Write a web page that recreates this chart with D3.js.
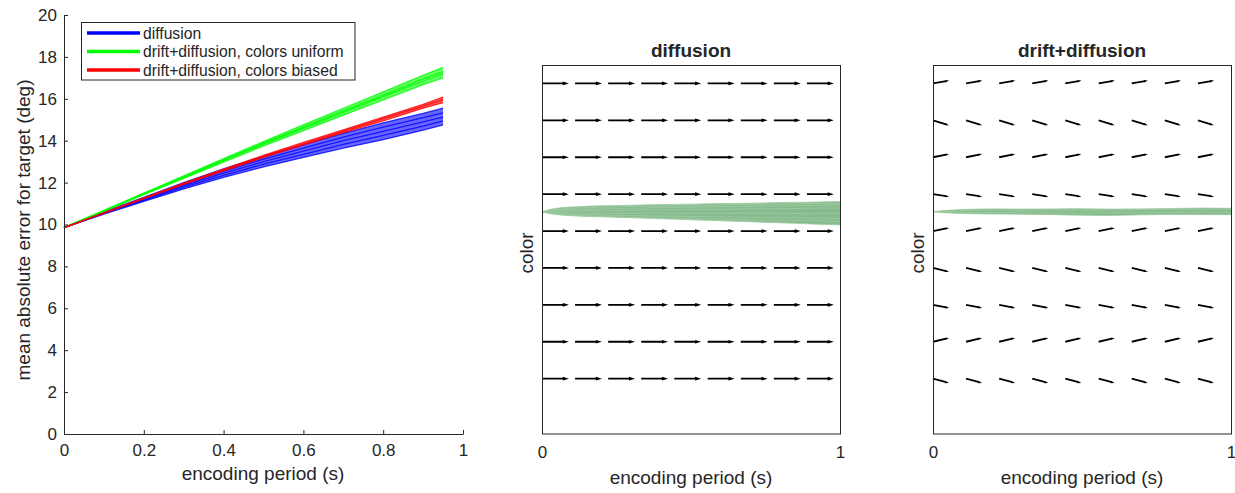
<!DOCTYPE html>
<html>
<head>
<meta charset="utf-8">
<script src="https://cdn.jsdelivr.net/npm/d3@7"></script>
<style>
body { margin: 0; background: #fff; }
text { font-family: "Liberation Sans", Arial, sans-serif; fill: #262626; }
</style>
</head>
<body>
<svg width="1235" height="493"></svg>
<script>
// ---- data: left panel (error vs encoding period) ----
var xVals = [0, 0.1, 0.2, 0.3, 0.4, 0.5, 0.6, 0.7, 0.8, 0.9, 0.95]
var xTicks = [0, 0.2, 0.4, 0.6, 0.8, 1]
var xTickLabels = ['0', '0.2', '0.4', '0.6', '0.8', '1']
var yTicks = [0, 2, 4, 6, 8, 10, 12, 14, 16, 18, 20]

var blueLines = [
  [9.85, 10.50, 11.10, 11.70, 12.25, 12.75, 13.20, 13.65, 14.05, 14.50, 14.75],
  [9.85, 10.53, 11.15, 11.78, 12.35, 12.88, 13.35, 13.83, 14.25, 14.70, 14.95],
  [9.85, 10.55, 11.20, 11.85, 12.45, 13.00, 13.50, 14.00, 14.45, 14.90, 15.12],
  [9.85, 10.57, 11.25, 11.92, 12.55, 13.12, 13.65, 14.17, 14.65, 15.10, 15.33],
  [9.85, 10.60, 11.30, 12.00, 12.65, 13.25, 13.80, 14.35, 14.85, 15.30, 15.55]
]
var greenLines = [
  [9.85, 10.63, 11.42, 12.20, 12.98, 13.75, 14.48, 15.22, 15.95, 16.68, 17.00],
  [9.85, 10.65, 11.45, 12.25, 13.05, 13.85, 14.60, 15.35, 16.10, 16.85, 17.20],
  [9.85, 10.66, 11.47, 12.28, 13.08, 13.88, 14.65, 15.42, 16.18, 16.95, 17.30],
  [9.85, 10.68, 11.50, 12.32, 13.14, 13.96, 14.76, 15.55, 16.33, 17.12, 17.50]
]
var redLines = [
  [9.85, 10.54, 11.23, 11.92, 12.56, 13.20, 13.80, 14.38, 14.95, 15.55, 15.82],
  [9.85, 10.55, 11.25, 11.95, 12.60, 13.25, 13.85, 14.45, 15.05, 15.65, 15.95],
  [9.85, 10.56, 11.27, 11.98, 12.64, 13.30, 13.92, 14.52, 15.12, 15.73, 16.08]
]
var seriesNames = ['diffusion', 'drift+diffusion, colors uniform', 'drift+diffusion, colors biased']
var seriesColors = ['#0000ff', '#00ff00', '#ff0000']

// ---- data: quiver panels ----
var quiverT = [0, 0.111, 0.222, 0.333, 0.444, 0.556, 0.667, 0.778, 0.889]
var quiverColors = [54, 90, 126, 162, 198, 234, 270, 306, 342]
var diffusionDy = [0, 0, 0, 0, 0, 0, 0, 0, 0]
var driftDy = [-3.5, 3, -2.5, -3, 2.5, -2, 2.5, -4, 2.3]

var trajT = [0, 0.03, 0.07, 0.12, 0.2, 0.3, 0.4, 0.5, 0.6, 0.7, 0.8, 0.9, 1.0]
var diffusionTraj = [
  [216.9, 219.3, 220.9, 221.8, 222.6, 223.2, 223.8, 224.2, 224.8, 225.2, 225.8, 226.2, 226.8],
  [216.9, 218.5, 219.6, 220.6, 221.2, 222.0, 222.4, 223.0, 223.4, 224.0, 224.4, 224.8, 225.2],
  [216.9, 217.9, 218.6, 219.2, 219.6, 220.2, 220.8, 221.2, 221.8, 222.0, 222.6, 223.0, 223.4],
  [216.9, 217.2, 217.5, 217.8, 218.0, 218.4, 218.6, 219.0, 219.2, 219.6, 219.8, 220.2, 220.4],
  [216.9, 216.3, 215.9, 215.7, 215.6, 215.4, 215.6, 215.4, 215.2, 215.4, 215.2, 215.0, 215.0],
  [216.9, 215.5, 214.6, 214.0, 213.6, 213.0, 212.6, 212.2, 211.8, 211.4, 211.0, 210.6, 210.2],
  [216.9, 214.8, 213.5, 212.6, 211.9, 211.3, 210.7, 210.1, 209.5, 208.9, 208.5, 208.1, 207.6],
  [216.9, 215.3, 214.0, 213.0, 212.2, 211.0, 210.0, 209.0, 208.0, 207.0, 206.0, 205.0, 204.0]
]
var driftTraj = [
  [216.9, 217.8, 218.6, 219.2, 219.6, 219.4, 219.6, 219.8, 219.4, 219.6, 220.0, 220.4, 220.2],
  [216.9, 217.3, 217.7, 218.0, 218.4, 218.2, 218.6, 218.2, 218.4, 218.8, 218.6, 218.8, 219.0],
  [216.9, 216.6, 216.4, 216.2, 216.0, 216.4, 216.0, 215.6, 216.0, 216.2, 216.0, 216.4, 216.2],
  [216.9, 216.0, 215.4, 214.9, 214.6, 214.4, 214.0, 213.4, 213.2, 213.8, 214.2, 214.0, 214.0]
]

var axisColor = '#262626'
var fontFam = '"Liberation Sans", Arial, sans-serif'
var svg = d3.select('svg')

// ================= left panel =================
var x = d3.scaleLinear().domain([0, 1]).range([64, 463])
var y = d3.scaleLinear().domain([0, 20]).range([434, 15])

function drawEnsemble(lines, color) {
  var lo = xVals.map(function(d, i) { return d3.min(lines, function(l) { return l[i] }) })
  var hi = xVals.map(function(d, i) { return d3.max(lines, function(l) { return l[i] }) })
  svg.append('path')
    .datum(xVals)
    .attr('d', d3.area()
      .x(function(d) { return x(d) })
      .y0(function(d, i) { return y(lo[i]) })
      .y1(function(d, i) { return y(hi[i]) }))
    .attr('fill', color)
    .attr('opacity', 0.6)
  svg.append('g').selectAll('path')
    .data(lines)
    .enter()
    .append('path')
    .attr('d', d3.line()
      .x(function(d, i) { return x(xVals[i]) })
      .y(function(d) { return y(d) }))
    .attr('fill', 'none')
    .attr('stroke', color)
    .attr('stroke-opacity', 0.8)
    .attr('stroke-width', 1.3)
}
drawEnsemble(blueLines, seriesColors[0])
drawEnsemble(greenLines, seriesColors[1])
drawEnsemble(redLines, seriesColors[2])

function styleAxis(g, size) {
  g.attr('font-size', size).attr('font-family', fontFam)
  g.selectAll('path, line').attr('stroke', axisColor)
  g.selectAll('text').attr('fill', axisColor)
}

svg.append('g')
  .attr('transform', 'translate(64,0)')
  .call(d3.axisLeft(y).tickValues(yTicks).tickSize(-4).tickSizeOuter(0).tickPadding(7)
    .tickFormat(function(d) { return String(d) }))
  .call(styleAxis, 17)

svg.append('g')
  .attr('transform', 'translate(0,434)')
  .call(d3.axisBottom(x).tickValues(xTicks).tickSize(-4).tickSizeOuter(0).tickPadding(10)
    .tickFormat(function(d, i) { return xTickLabels[i] }))
  .call(styleAxis, 17)

svg.append('text')
  .attr('x', 263).attr('y', 480)
  .attr('text-anchor', 'middle')
  .attr('font-size', 19)
  .text('encoding period (s)')

svg.append('text')
  .attr('transform', 'translate(30,230) rotate(-90)')
  .attr('text-anchor', 'middle')
  .attr('font-size', 19)
  .text('mean absolute error for target (deg)')

// legend
var legend = svg.append('g')
legend.append('rect')
  .attr('x', 81.5).attr('y', 22.5).attr('width', 273.5).attr('height', 57.5)
  .attr('fill', '#fff').attr('stroke', axisColor).attr('stroke-width', 1)
var legRows = legend.selectAll('g.row')
  .data(seriesNames)
  .enter()
  .append('g')
  .attr('class', 'row')
  .attr('transform', function(d, i) { return 'translate(0,' + (33 + i * 18.5) + ')' })
legRows.append('line')
  .attr('x1', 87).attr('x2', 140)
  .attr('stroke', function(d, i) { return seriesColors[i] })
  .attr('stroke-width', 3.5)
legRows.append('text')
  .attr('x', 143).attr('y', 5.5)
  .attr('font-size', 15.7)
  .attr('fill', '#1a1a1a')
  .text(function(d) { return d })

// ================= quiver panels =================
function drawPanel(x0, title, arrowLen, headFrac, dyArr, traj) {
  var px = d3.scaleLinear().domain([0, 1]).range([x0, x0 + 298])
  var py = d3.scaleLinear().domain([0, 360]).range([434, 65])
  var g = svg.append('g')

  // arrows
  var arrows = []
  quiverColors.forEach(function(c, r) {
    quiverT.forEach(function(t) {
      arrows.push({ t: t, c: c, dx: arrowLen, dy: dyArr[r] })
    })
  })
  g.append('g').selectAll('path')
    .data(arrows)
    .enter()
    .append('path')
    .attr('d', function(d) {
      var x1 = px(d.t), y1 = py(d.c)
      var x2 = px(d.t + d.dx), y2 = py(d.c + d.dy)
      var ang = Math.atan2(y2 - y1, x2 - x1)
      var len = Math.hypot(x2 - x1, y2 - y1)
      var h = len * headFrac, w = 0.3
      var ax = x2 - h * Math.cos(ang - w), ay = y2 - h * Math.sin(ang - w)
      var bx = x2 - h * Math.cos(ang + w), by = y2 - h * Math.sin(ang + w)
      return 'M' + x1 + ',' + y1 + 'L' + x2 + ',' + y2 +
        'M' + ax + ',' + ay + 'L' + x2 + ',' + y2 + 'L' + bx + ',' + by
    })
    .attr('fill', 'none')
    .attr('stroke', '#000')
    .attr('stroke-width', 1.8)

  // trajectory band
  var lo = trajT.map(function(d, i) { return d3.min(traj, function(l) { return l[i] }) })
  var hi = trajT.map(function(d, i) { return d3.max(traj, function(l) { return l[i] }) })
  g.append('path')
    .datum(trajT)
    .attr('d', d3.area()
      .x(function(d) { return px(d) })
      .y0(function(d, i) { return py(lo[i]) })
      .y1(function(d, i) { return py(hi[i]) })
      .curve(d3.curveMonotoneX))
    .attr('fill', '#86bc8c')
  g.append('g').selectAll('path')
    .data(traj)
    .enter()
    .append('path')
    .attr('d', d3.line()
      .x(function(d, i) { return px(trajT[i]) })
      .y(function(d) { return py(d) })
      .curve(d3.curveMonotoneX))
    .attr('fill', 'none')
    .attr('stroke', '#9fcaa4')
    .attr('stroke-width', 0.8)

  // box
  g.append('rect')
    .attr('x', x0 + 0.5).attr('y', 65.5).attr('width', 298).attr('height', 368.5)
    .attr('fill', 'none').attr('stroke', axisColor).attr('stroke-width', 1)

  g.append('g')
    .attr('transform', 'translate(0,434)')
    .call(d3.axisBottom(px).tickValues([0, 1]).tickSize(0).tickPadding(12)
      .tickFormat(function(d) { return String(d) }))
    .call(styleAxis, 17)
    .select('.domain').remove()

  g.append('text')
    .attr('x', x0 + 149).attr('y', 484)
    .attr('text-anchor', 'middle')
    .attr('font-size', 19)
    .text('encoding period (s)')

  g.append('text')
    .attr('x', x0 + 149).attr('y', 57)
    .attr('text-anchor', 'middle')
    .attr('font-size', 19)
    .attr('font-weight', 'bold')
    .attr('fill', '#000')
    .text(title)

  g.append('text')
    .attr('transform', 'translate(' + (x0 - 9) + ',253) rotate(-90)')
    .attr('text-anchor', 'middle')
    .attr('font-size', 19)
    .text('color')
}

drawPanel(542, 'diffusion', 0.08, 0.14, diffusionDy, diffusionTraj)
drawPanel(933, 'drift+diffusion', 0.044, 0.08, driftDy, driftTraj)
</script>
</body>
</html>
